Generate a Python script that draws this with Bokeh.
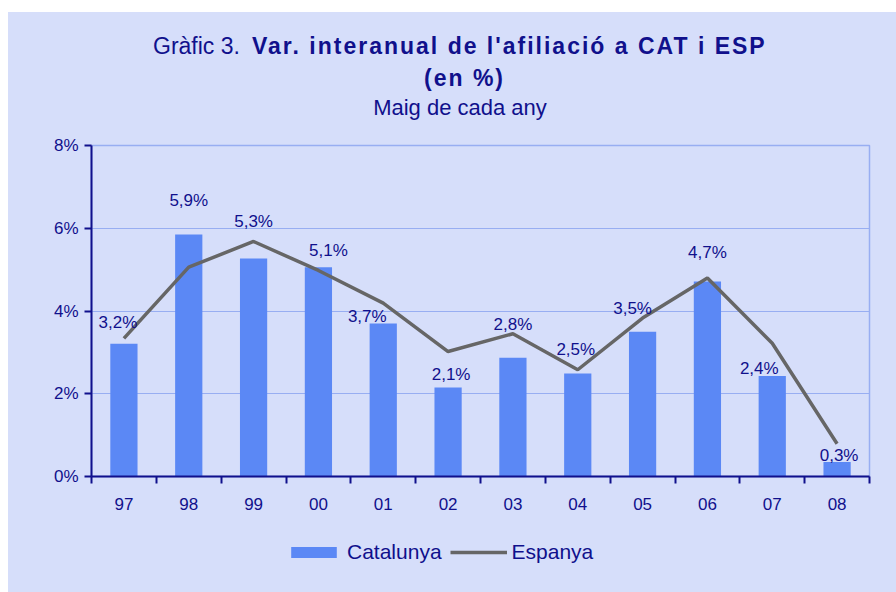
from bokeh.plotting import figure
from bokeh.layouts import column
from bokeh.models import (ColumnDataSource, Range1d, FixedTicker, PrintfTickFormatter,
                          Legend, LegendItem, Div)
from bokeh.core.properties import value
from bokeh.embed import file_html
from bokeh.resources import INLINE

# ---- data ----
years = ["97", "98", "99", "00", "01", "02", "03", "04", "05", "06", "07", "08"]
catalunya = [3.21, 5.85, 5.27, 5.06, 3.70, 2.15, 2.87, 2.49, 3.50, 4.71, 2.43, 0.35]
espanya = [3.34, 5.06, 5.68, 4.98, 4.19, 3.02, 3.45, 2.58, 3.83, 4.80, 3.22, 0.79]
cat_labels = ["3,2%", "5,9%", "5,3%", "5,1%", "3,7%", "2,1%", "2,8%", "2,5%",
              "3,5%", "4,7%", "2,4%", "0,3%"]
y_ticks = [0, 2, 4, 6, 8]
series_names = ["Catalunya", "Espanya"]
title_pre = "Gràfic 3."
title_main = "Var. interanual de l'afiliació a CAT i ESP"
title_line2 = "(en %)"
subtitle = "Maig de cada any"

# ---- style (label nudges in screen pixels) ----
label_dx = [-6, 0, 0, 10, -16, 3, 0, -2, -10, 0, -13, 2]
label_up = [21, 34, 37, 17, 7, 13, 33, 24, 23, 29, 7, 7]

BG = "#D6DEFA"
NAVY = "#10108C"
BAR = "#5B88F5"
LINE = "#666666"
GRID = "#98AEF2"
FONT = "Liberation Sans"
W = 888
H_HEAD = 118

# ---- header (titles) ----
def line_div(top, left, size, weight, ls, txt, width=None, center=False):
    pos = f"left:{left}px;" if not center else f"left:0px;width:{width}px;text-align:center;"
    return (f"<div style=\"position:absolute;top:{top}px;{pos}height:30px;line-height:30px;"
            f"font-size:{size}px;font-weight:{weight};letter-spacing:{ls}px;white-space:nowrap;\">"
            f"{txt}</div>")

html = (f"<div style=\"position:relative;width:{W}px;height:{H_HEAD}px;font-family:'{FONT}';"
        f"color:{NAVY};background:{BG};\">"
        + line_div(19, 145, 23, "normal", 0, title_pre)
        + line_div(19, 244, 23, "bold", 2, title_main.replace("'", "&#39;"))
        + line_div(51, 0, 23, "bold", 2, title_line2, width=913, center=True)
        + line_div(81, 0, 22, "normal", 0, subtitle, width=904, center=True)
        + "</div>")
head = Div(text=html, width=W, height=H_HEAD, margin=0, styles={"background-color": BG})

# ---- main chart ----
xs = [i + 0.5 for i in range(len(years))]
src = ColumnDataSource(dict(
    x=xs, cat=catalunya, esp=espanya, lab=cat_labels,
    dx=label_dx, dy=[-u for u in label_up],
))

p = figure(width=W, height=395, output_backend="svg", toolbar_location=None,
           title=None, x_range=Range1d(0, len(years)), y_range=Range1d(0, 8),
           min_border_left=83, min_border_right=27, min_border_top=15,
           min_border_bottom=49, background_fill_color=BG, border_fill_color=BG,
           margin=0)

p.xgrid.visible = False
p.ygrid.ticker = FixedTicker(ticks=y_ticks)
p.ygrid.grid_line_color = GRID
p.ygrid.grid_line_width = 1.2
p.outline_line_color = GRID
p.outline_line_width = 1.5

xa = p.xaxis[0]
xa.ticker = FixedTicker(ticks=xs, minor_ticks=list(range(len(years) + 1)))
xa.major_label_overrides = {x: y for x, y in zip(xs, years)}
xa.major_tick_line_color = None
xa.major_tick_out = 0
xa.major_tick_in = 0
xa.minor_tick_line_color = NAVY
xa.minor_tick_line_width = 2
xa.minor_tick_out = 7
xa.minor_tick_in = 0
xa.axis_line_color = NAVY
xa.axis_line_width = 2
xa.major_label_text_font = FONT
xa.major_label_text_font_size = "17px"
xa.major_label_text_color = NAVY
xa.major_label_standoff = 14

ya = p.yaxis[0]
ya.ticker = FixedTicker(ticks=y_ticks)
ya.formatter = PrintfTickFormatter(format="%d%%")
ya.major_tick_line_color = NAVY
ya.major_tick_line_width = 2
ya.major_tick_out = 7
ya.major_tick_in = 0
ya.minor_tick_line_color = None
ya.axis_line_color = NAVY
ya.axis_line_width = 2
ya.major_label_text_font = FONT
ya.major_label_text_font_size = "17px"
ya.major_label_text_color = NAVY
ya.major_label_standoff = 6

p.vbar(x="x", top="cat", width=0.42, source=src, fill_color=BAR, line_color=None)
p.line(x="x", y="esp", source=src, line_color=LINE, line_width=3.5)
p.text(x="x", y="cat", text="lab", x_offset="dx", y_offset="dy", source=src,
       text_align="center", text_baseline="middle", text_font=value(FONT),
       text_font_size="17px", text_color=NAVY)

# ---- footer with the legend (its frame lines up with the chart frame) ----
foot = figure(width=W, height=67, output_backend="svg", toolbar_location=None,
              title=None, x_range=Range1d(0, len(years)), y_range=Range1d(0, 1),
              x_axis_type=None, y_axis_type=None,
              min_border_left=83, min_border_right=27, min_border_top=0,
              min_border_bottom=0, background_fill_color=BG, border_fill_color=BG,
              margin=0)
foot.grid.visible = False
foot.outline_line_color = None
# legend swatches only: placed outside the visible range of this strip
off = ColumnDataSource(dict(x=[-5, -4], y=[-5, -5]))
lb = foot.vbar(x="x", top="y", width=0.42, source=off, fill_color=BAR, line_color=None)
ll = foot.line(x="x", y="y", source=off, line_color=LINE, line_width=3.5)
legend = Legend(items=[LegendItem(label=series_names[0], renderers=[lb]),
                       LegendItem(label=series_names[1], renderers=[ll])],
                orientation="horizontal", location=(194, 28),
                glyph_width=57, glyph_height=14, label_standoff=5, spacing=8,
                label_text_font=FONT, label_text_font_size="21px", label_text_color=NAVY,
                padding=0, margin=0, border_line_alpha=0, background_fill_alpha=0)
foot.add_layout(legend)

layout = column(head, p, foot, spacing=0, margin=(12, 0, 0, 8),
                styles={"background-color": BG})

open("out.html", "w").write(file_html(layout, INLINE))
